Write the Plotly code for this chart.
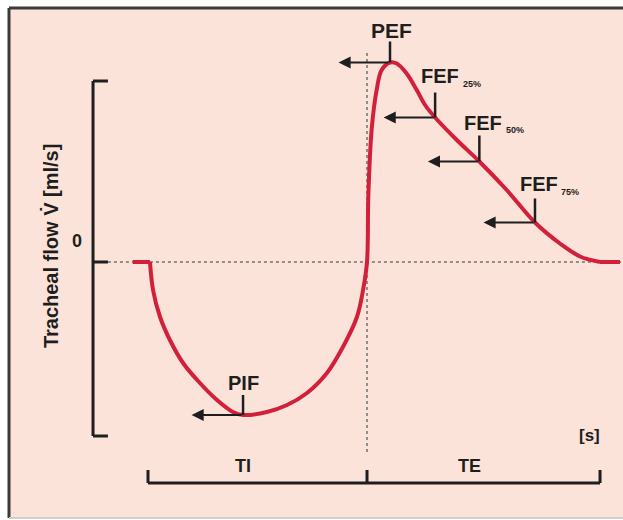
import plotly.graph_objects as go

# ---- data (time in s, flow in ml/s; schematic units) ----
insp_t = [-0.07, 0.009, 0.023, 0.055, 0.10, 0.16, 0.237, 0.315, 0.388, 0.434, 0.543, 0.635, 0.726, 0.817, 0.89, 0.954, 0.982, 1.0]
insp_flow = [0, 0, -0.56, -1.10, -1.56, -2.02, -2.42, -2.76, -3.0, -3.06, -3.0, -2.86, -2.62, -2.22, -1.70, -1.10, -0.56, 0]
exp_t = [1.0, 1.006, 1.021, 1.044, 1.067, 1.105, 1.136, 1.181, 1.227, 1.265, 1.311, 1.41, 1.513, 1.638, 1.767, 1.881, 1.973, 2.064, 2.155]
exp_flow = [0, 1.31, 2.64, 3.44, 3.84, 3.99, 3.97, 3.77, 3.44, 3.14, 2.89, 2.44, 2.01, 1.44, 0.79, 0.37, 0.11, 0, 0]

marker_names = ["PEF", "FEF", "FEF", "FEF", "PIF"]
marker_subs = ["", "25%", "50%", "75%", ""]
marker_t = [1.105, 1.311, 1.513, 1.767, 0.434]
marker_flow = [3.99, 2.89, 2.01, 0.79, -3.06]

phase_labels = ["TI", "TE"]
phase_bounds = [0.0, 1.0, 2.064]

CURVE = "#D3203A"
INK = "#1e1e1e"
FONT = "Liberation Sans, Arial, sans-serif"

fig = go.Figure()
fig.add_trace(go.Scatter(x=insp_t[:2], y=insp_flow[:2], mode="lines",
                         line=dict(color=CURVE, width=4), hoverinfo="skip"))
fig.add_trace(go.Scatter(x=insp_t[1:] + exp_t[1:-1], y=insp_flow[1:] + exp_flow[1:-1], mode="lines",
                         line=dict(color=CURVE, width=4, shape="spline", smoothing=1.0), hoverinfo="skip"))
fig.add_trace(go.Scatter(x=exp_t[-2:], y=exp_flow[-2:], mode="lines",
                         line=dict(color=CURVE, width=4), hoverinfo="skip"))

shapes = []
# background panel
shapes.append(dict(type="rect", xref="paper", yref="paper", x0=9/623, x1=1.02, y0=1-518/520, y1=1-8/520,
                   fillcolor="#FCE3D9", line=dict(width=0), layer="below"))
shapes.append(dict(type="line", xref="paper", yref="paper", x0=9/623, x1=9/623, y0=1-518/520, y1=1-8/520,
                   line=dict(color="#3a3a3a", width=3), layer="below"))
shapes.append(dict(type="line", xref="paper", yref="paper", x0=9/623, x1=1.02, y0=1-8/520, y1=1-8/520,
                   line=dict(color="#3a3a3a", width=3), layer="below"))
shapes.append(dict(type="line", xref="paper", yref="paper", x0=9/623, x1=1.02, y0=1-518/520, y1=1-518/520,
                   line=dict(color="#cfcfcf", width=2), layer="below"))

# dashed reference lines
shapes.append(dict(type="line", x0=-0.183, x1=2.17, y0=0, y1=0,
                   line=dict(color="#707070", width=1.5, dash="3px,3px"), layer="below"))
shapes.append(dict(type="line", x0=1.0, x1=1.0, y0=-3.8, y1=4.2,
                   line=dict(color="#707070", width=1.5, dash="3px,3px"), layer="below"))

# y bracket
yb_x, yb_tick = -0.251, -0.183
for seg in [(yb_x, yb_x, -3.48, 3.62), (yb_x, yb_tick, 3.62, 3.62), (yb_x, yb_tick, -3.48, -3.48), (yb_x, yb_tick, 0, 0)]:
    shapes.append(dict(type="line", x0=seg[0], x1=seg[1], y0=seg[2], y1=seg[3],
                       line=dict(color=INK, width=3)))

# time bracket
tb_y, tb_tick = -4.42, -4.16
shapes.append(dict(type="line", x0=phase_bounds[0], x1=phase_bounds[-1], y0=tb_y, y1=tb_y,
                   line=dict(color=INK, width=3)))
for b in phase_bounds:
    shapes.append(dict(type="line", x0=b, x1=b, y0=tb_y, y1=tb_tick, line=dict(color=INK, width=3)))

annotations = []
tick_len = [0.42, 0.5, 0.52, 0.48, 0.4]
label_pos = [(1.114, 4.64), (1.333, 3.72), (1.530, 2.79), (1.785, 1.56), (0.434, -2.41)]
sub_pos = [None, (1.479, 3.56), (1.676, 2.64), (1.927, 1.41), None]
arrow_len = 0.235
for i in range(len(marker_t)):
    t, f = marker_t[i], marker_flow[i]
    shapes.append(dict(type="line", x0=t, x1=t, y0=f, y1=f + tick_len[i], line=dict(color=INK, width=2.5)))
    annotations.append(dict(x=t - arrow_len, y=f, ax=t, ay=f, xref="x", yref="y", axref="x", ayref="y",
                            text="", showarrow=True, arrowhead=2, arrowsize=1.1, arrowwidth=2.2,
                            arrowcolor=INK, standoff=0))
    lx, ly = label_pos[i]
    annotations.append(dict(x=lx, y=ly, text="<b>%s</b>" % marker_names[i], showarrow=False,
                            font=dict(family=FONT, size=21 if marker_names[i] == "PEF" else 20, color=INK)))
    if marker_subs[i]:
        sx, sy = sub_pos[i]
        annotations.append(dict(x=sx, y=sy, text="<b>%s</b>" % marker_subs[i], showarrow=False,
                                font=dict(family=FONT, size=9, color=INK)))

for lab, a, b in zip(phase_labels, phase_bounds[:-1], phase_bounds[1:]):
    annotations.append(dict(x=(a + b) / 2 - 0.066, y=-4.08, text="<b>%s</b>" % lab, showarrow=False,
                            font=dict(family=FONT, size=18, color=INK)))
annotations.append(dict(x=2.018, y=-3.46, text="<b>[s]</b>", showarrow=False,
                        font=dict(family=FONT, size=17, color=INK)))
annotations.append(dict(x=-0.324, y=0.42, text="<b>0</b>", showarrow=False,
                        font=dict(family=FONT, size=18, color=INK)))
annotations.append(dict(x=-0.447, y=0.32, text="<b>Tracheal flow V\u0307 [ml/s]</b>", showarrow=False,
                        textangle=-90, font=dict(family=FONT, size=20, color=INK)))

fig.update_layout(
    width=623, height=520, margin=dict(l=0, r=0, t=0, b=0),
    paper_bgcolor="white", plot_bgcolor="rgba(0,0,0,0)", showlegend=False,
    xaxis=dict(range=[-0.6758, 2.1689], visible=False, fixedrange=True),
    yaxis=dict(range=[-5.16, 5.24], visible=False, fixedrange=True),
    shapes=shapes, annotations=annotations,
)
fig.write_html("out.html")
